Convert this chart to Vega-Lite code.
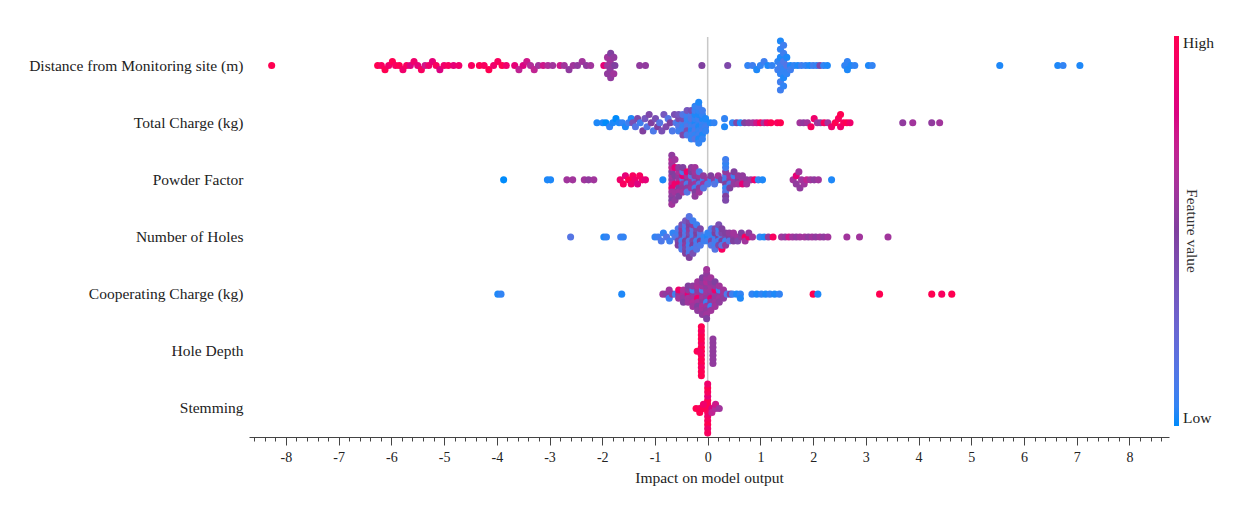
{
"$schema": "https://vega.github.io/schema/vega-lite/v6.json",
"width": 920, "height": 400,
"padding": {"left": 28, "top": 36, "right": 5, "bottom": 5},
"background": "white",
"config": {"font": "Liberation Serif", "view": {"stroke": null}},
"layer": [
{"data": {"values": [{}]}, "mark": {"type": "rule", "color": "#c8c8c8", "strokeWidth": 1.5}, "encoding": {"x": {"datum": 0, "type": "quantitative"}}},
{"data": {"values": [
{"k":1,"v":-8.27,"j":0,"c":1},{"k":1,"v":-6.26,"j":0,"c":1},{"k":1,"v":-6.19,"j":0,"c":0.95},{"k":1,"v":-6.12,"j":1,"c":1},{"k":1,"v":-6.05,"j":0,"c":0.9},{"k":1,"v":-5.98,"j":-1,"c":1},{"k":1,"v":-5.92,"j":0,"c":0.95},{"k":1,"v":-5.85,"j":0,"c":1},{"k":1,"v":-5.78,"j":1,"c":0.9},{"k":1,"v":-5.71,"j":0,"c":0.95},{"k":1,"v":-5.64,"j":0,"c":0.8},{"k":1,"v":-5.57,"j":-1,"c":0.9},{"k":1,"v":-5.5,"j":0,"c":0.85},{"k":1,"v":-5.43,"j":1,"c":0.95},{"k":1,"v":-5.36,"j":0,"c":0.75},{"k":1,"v":-5.29,"j":0,"c":0.9},{"k":1,"v":-5.22,"j":-1,"c":0.85},{"k":1,"v":-5.15,"j":0,"c":0.95},{"k":1,"v":-5.08,"j":1,"c":0.8},{"k":1,"v":-5.0,"j":0,"c":0.9},{"k":1,"v":-4.92,"j":0,"c":0.95},{"k":1,"v":-4.82,"j":0,"c":0.85},{"k":1,"v":-4.72,"j":0,"c":0.9},{"k":1,"v":-4.48,"j":0,"c":0.95},{"k":1,"v":-4.33,"j":0,"c":1},{"k":1,"v":-4.24,"j":0,"c":0.95},{"k":1,"v":-4.15,"j":1,"c":1},{"k":1,"v":-4.06,"j":0,"c":0.9},{"k":1,"v":-3.98,"j":-1,"c":0.95},{"k":1,"v":-3.9,"j":0,"c":1},{"k":1,"v":-3.82,"j":0,"c":0.9},{"k":1,"v":-3.66,"j":0,"c":0.85},{"k":1,"v":-3.58,"j":1,"c":0.7},{"k":1,"v":-3.5,"j":0,"c":0.8},{"k":1,"v":-3.43,"j":-1,"c":0.75},{"k":1,"v":-3.36,"j":0,"c":0.65},{"k":1,"v":-3.29,"j":1,"c":0.7},{"k":1,"v":-3.21,"j":0,"c":0.6},{"k":1,"v":-3.12,"j":0,"c":0.75},{"k":1,"v":-3.03,"j":0,"c":0.65},{"k":1,"v":-2.94,"j":0,"c":0.6},{"k":1,"v":-2.8,"j":0,"c":0.75},{"k":1,"v":-2.72,"j":0,"c":0.6},{"k":1,"v":-2.63,"j":1,"c":0.55},{"k":1,"v":-2.55,"j":0,"c":0.6},{"k":1,"v":-2.47,"j":0,"c":0.55},{"k":1,"v":-2.38,"j":-1,"c":0.6},{"k":1,"v":-2.3,"j":0,"c":0.55},{"k":1,"v":-2.22,"j":0,"c":0.6},
{"k":1,"v":-1.97,"j":0,"c":0.85},{"k":1,"v":-1.9,"j":0,"c":0.6},{"k":1,"v":-1.9,"j":2,"c":0.55},{"k":1,"v":-1.9,"j":-2,"c":0.6},{"k":1,"v":-1.85,"j":1,"c":0.55},{"k":1,"v":-1.85,"j":-1,"c":0.6},{"k":1,"v":-1.84,"j":3,"c":0.55},{"k":1,"v":-1.84,"j":-3,"c":0.5},{"k":1,"v":-1.8,"j":0,"c":0.55},{"k":1,"v":-1.78,"j":2,"c":0.6},{"k":1,"v":-1.78,"j":-2,"c":0.55},{"k":1,"v":-1.76,"j":0,"c":0.5},{"k":1,"v":-1.29,"j":0,"c":0.55},{"k":1,"v":-1.18,"j":0,"c":0.55},{"k":1,"v":-0.11,"j":0,"c":0.5},{"k":1,"v":0.38,"j":0,"c":0.45},
{"k":1,"v":0.76,"j":0,"c":0.05},{"k":1,"v":0.85,"j":0,"c":0.08},{"k":1,"v":0.93,"j":1,"c":0.02},{"k":1,"v":1.0,"j":0,"c":0.05},{"k":1,"v":1.07,"j":-1,"c":0.08},{"k":1,"v":1.14,"j":0,"c":0.02},{"k":1,"v":1.22,"j":0,"c":0.05},{"k":1,"v":1.33,"j":1,"c":0.08},{"k":1,"v":1.33,"j":-1,"c":0.05},{"k":1,"v":1.38,"j":0,"c":0.08},{"k":1,"v":1.38,"j":2,"c":0.05},{"k":1,"v":1.38,"j":-2,"c":0.02},{"k":1,"v":1.38,"j":4,"c":0.08},{"k":1,"v":1.38,"j":-4,"c":0.05},{"k":1,"v":1.38,"j":6,"c":0.08},{"k":1,"v":1.38,"j":-6,"c":0.02},{"k":1,"v":1.44,"j":1,"c":0.05},{"k":1,"v":1.44,"j":-1,"c":0.12},{"k":1,"v":1.44,"j":3,"c":0.02},{"k":1,"v":1.44,"j":-3,"c":0.08},{"k":1,"v":1.44,"j":5,"c":0.05},{"k":1,"v":1.44,"j":-5,"c":0.08},{"k":1,"v":1.5,"j":0,"c":0.15},{"k":1,"v":1.5,"j":2,"c":0.05},{"k":1,"v":1.5,"j":-2,"c":0.02},{"k":1,"v":1.57,"j":0,"c":0.02},{"k":1,"v":1.57,"j":1,"c":0.08},{"k":1,"v":1.64,"j":0,"c":0.05},{"k":1,"v":1.71,"j":0,"c":0.02},{"k":1,"v":1.78,"j":0,"c":0.08},{"k":1,"v":1.86,"j":0,"c":0.05},{"k":1,"v":1.93,"j":0,"c":0.02},{"k":1,"v":2.0,"j":0,"c":0.08},{"k":1,"v":2.07,"j":0,"c":0.05},{"k":1,"v":2.13,"j":0,"c":0.45},{"k":1,"v":2.2,"j":0,"c":0.05},{"k":1,"v":2.27,"j":0,"c":0.02},{"k":1,"v":2.6,"j":0,"c":0.05},{"k":1,"v":2.65,"j":1,"c":0.02},{"k":1,"v":2.65,"j":-1,"c":0.05},{"k":1,"v":2.72,"j":0,"c":0.02},{"k":1,"v":2.79,"j":0,"c":0.05},{"k":1,"v":3.05,"j":0,"c":0.02},{"k":1,"v":3.12,"j":0,"c":0.05},{"k":1,"v":5.54,"j":0,"c":0.02},{"k":1,"v":6.64,"j":0,"c":0.02},{"k":1,"v":6.74,"j":0,"c":0.05},{"k":1,"v":7.06,"j":0,"c":0.02},
{"k":2,"v":-2.1,"j":0,"c":0.02},{"k":2,"v":-1.99,"j":0,"c":0.02},{"k":2,"v":-1.93,"j":0,"c":0},{"k":2,"v":-1.86,"j":1,"c":0.05},{"k":2,"v":-1.8,"j":0,"c":0.02},{"k":2,"v":-1.74,"j":-1,"c":0},{"k":2,"v":-1.68,"j":0,"c":0.02},{"k":2,"v":-1.62,"j":0,"c":0.05},{"k":2,"v":-1.56,"j":1,"c":0.02},{"k":2,"v":-1.5,"j":0,"c":0.08},{"k":2,"v":-1.45,"j":-1,"c":0.02},{"k":2,"v":-1.42,"j":0,"c":0.4},{"k":2,"v":-1.37,"j":1,"c":0.15},{"k":2,"v":-1.33,"j":-1,"c":0.45},{"k":2,"v":-1.28,"j":0,"c":0.08},{"k":2,"v":-1.23,"j":2,"c":0.5},{"k":2,"v":-1.19,"j":-1,"c":0.35},{"k":2,"v":-1.15,"j":1,"c":0.15},{"k":2,"v":-1.11,"j":-2,"c":0.45},{"k":2,"v":-1.07,"j":0,"c":0.5},{"k":2,"v":-1.03,"j":2,"c":0.12},{"k":2,"v":-0.99,"j":-1,"c":0.4},{"k":2,"v":-0.95,"j":1,"c":0.5},{"k":2,"v":-0.91,"j":0,"c":0.15},{"k":2,"v":-0.87,"j":2,"c":0.4},{"k":2,"v":-0.83,"j":-2,"c":0.35},{"k":2,"v":-0.79,"j":1,"c":0.45},{"k":2,"v":-0.75,"j":-1,"c":0.15},{"k":2,"v":-0.71,"j":0,"c":0.5},{"k":2,"v":-0.67,"j":2,"c":0.12},{"k":2,"v":-0.63,"j":-2,"c":0.4},{"k":2,"v":-0.6,"j":0,"c":0.15},
{"k":2,"v":-0.55,"j":0,"c":0.08},{"k":2,"v":-0.55,"j":1,"c":0.15},{"k":2,"v":-0.55,"j":-1,"c":0.45},{"k":2,"v":-0.55,"j":2,"c":0.08},{"k":2,"v":-0.55,"j":-2,"c":0.35},
{"k":2,"v":-0.47,"j":0,"c":0.12},{"k":2,"v":-0.47,"j":1,"c":0.05},{"k":2,"v":-0.47,"j":-1,"c":0.4},{"k":2,"v":-0.47,"j":2,"c":0.08},{"k":2,"v":-0.47,"j":-2,"c":0.15},{"k":2,"v":-0.47,"j":3,"c":0.45},
{"k":2,"v":-0.39,"j":0,"c":0.08},{"k":2,"v":-0.39,"j":1,"c":0.15},{"k":2,"v":-0.39,"j":-1,"c":0.05},{"k":2,"v":-0.39,"j":2,"c":0.4},{"k":2,"v":-0.39,"j":-2,"c":0.08},{"k":2,"v":-0.39,"j":3,"c":0.12},{"k":2,"v":-0.39,"j":-3,"c":0.35},
{"k":2,"v":-0.31,"j":0,"c":0.05},{"k":2,"v":-0.31,"j":1,"c":0.08},{"k":2,"v":-0.31,"j":-1,"c":0.15},{"k":2,"v":-0.31,"j":2,"c":0.02},{"k":2,"v":-0.31,"j":-2,"c":0.12},{"k":2,"v":-0.31,"j":3,"c":0.08},{"k":2,"v":-0.31,"j":-3,"c":0.4},{"k":2,"v":-0.31,"j":4,"c":0.05},
{"k":2,"v":-0.24,"j":0,"c":0.02},{"k":2,"v":-0.24,"j":1,"c":0.08},{"k":2,"v":-0.24,"j":-1,"c":0.05},{"k":2,"v":-0.24,"j":2,"c":0.12},{"k":2,"v":-0.24,"j":-2,"c":0.02},{"k":2,"v":-0.24,"j":3,"c":0.05},{"k":2,"v":-0.24,"j":-3,"c":0.08},{"k":2,"v":-0.24,"j":4,"c":0.15},{"k":2,"v":-0.24,"j":-4,"c":0.05},
{"k":2,"v":-0.17,"j":0,"c":0.05},{"k":2,"v":-0.17,"j":1,"c":0.02},{"k":2,"v":-0.17,"j":-1,"c":0.08},{"k":2,"v":-0.17,"j":2,"c":0.05},{"k":2,"v":-0.17,"j":-2,"c":0.02},{"k":2,"v":-0.17,"j":3,"c":0.08},{"k":2,"v":-0.17,"j":-3,"c":0.05},{"k":2,"v":-0.17,"j":4,"c":0.02},{"k":2,"v":-0.17,"j":-4,"c":0.08},{"k":2,"v":-0.17,"j":5,"c":0.05},{"k":2,"v":-0.17,"j":-5,"c":0.02},
{"k":2,"v":-0.1,"j":0,"c":0.08},{"k":2,"v":-0.1,"j":1,"c":0.05},{"k":2,"v":-0.1,"j":-1,"c":0.02},{"k":2,"v":-0.1,"j":2,"c":0.08},{"k":2,"v":-0.1,"j":-2,"c":0.05},{"k":2,"v":-0.1,"j":3,"c":0.02},{"k":2,"v":-0.1,"j":-3,"c":0.08},{"k":2,"v":-0.1,"j":4,"c":0.05},
{"k":2,"v":-0.04,"j":0,"c":0.05},{"k":2,"v":-0.04,"j":1,"c":0.08},{"k":2,"v":-0.04,"j":-1,"c":0.02},{"k":2,"v":-0.04,"j":2,"c":0.05},
{"k":2,"v":0.05,"j":0,"c":0.02},{"k":2,"v":0.12,"j":0,"c":0.05},{"k":2,"v":0.32,"j":1,"c":0.02},{"k":2,"v":0.32,"j":-1,"c":0.05},{"k":2,"v":0.47,"j":0,"c":0.05},{"k":2,"v":0.55,"j":0,"c":0.45},{"k":2,"v":0.62,"j":0,"c":0.02},{"k":2,"v":0.7,"j":0,"c":0.5},{"k":2,"v":0.78,"j":0,"c":0.55},{"k":2,"v":0.86,"j":0,"c":0.6},{"k":2,"v":0.93,"j":0,"c":0.75},{"k":2,"v":1.0,"j":0,"c":0.95},{"k":2,"v":1.07,"j":0,"c":0.6},{"k":2,"v":1.13,"j":0,"c":0.9},{"k":2,"v":1.2,"j":0,"c":1},{"k":2,"v":1.32,"j":0,"c":0.95},{"k":2,"v":1.38,"j":0,"c":1},
{"k":2,"v":1.75,"j":0,"c":0.6},{"k":2,"v":1.82,"j":0,"c":0.55},{"k":2,"v":1.89,"j":0,"c":0.6},{"k":2,"v":1.96,"j":1,"c":0.95},{"k":2,"v":2.02,"j":-1,"c":0.9},{"k":2,"v":2.08,"j":0,"c":0.6},{"k":2,"v":2.14,"j":0,"c":0.55},{"k":2,"v":2.21,"j":0,"c":0.95},{"k":2,"v":2.28,"j":0,"c":0.6},{"k":2,"v":2.35,"j":1,"c":0.9},{"k":2,"v":2.42,"j":0,"c":1},{"k":2,"v":2.48,"j":-1,"c":0.95},{"k":2,"v":2.52,"j":1,"c":0.9},{"k":2,"v":2.52,"j":-2,"c":1},{"k":2,"v":2.58,"j":0,"c":0.95},{"k":2,"v":2.64,"j":0,"c":1},{"k":2,"v":2.7,"j":0,"c":0.9},{"k":2,"v":3.7,"j":0,"c":0.55},{"k":2,"v":3.89,"j":0,"c":0.6},{"k":2,"v":4.25,"j":0,"c":0.55},{"k":2,"v":4.4,"j":0,"c":0.6},
{"k":3,"v":-3.87,"j":0,"c":0},{"k":3,"v":-3.04,"j":0,"c":0.02},{"k":3,"v":-2.98,"j":0,"c":0.02},{"k":3,"v":-2.67,"j":0,"c":0.6},{"k":3,"v":-2.56,"j":0,"c":0.6},{"k":3,"v":-2.34,"j":0,"c":0.6},{"k":3,"v":-2.26,"j":0,"c":0.55},{"k":3,"v":-2.16,"j":0,"c":0.6},
{"k":3,"v":-1.66,"j":0,"c":0.9},{"k":3,"v":-1.6,"j":1,"c":0.95},{"k":3,"v":-1.56,"j":-1,"c":0.85},{"k":3,"v":-1.5,"j":0,"c":1},{"k":3,"v":-1.45,"j":1,"c":0.9},{"k":3,"v":-1.42,"j":-1,"c":0.95},{"k":3,"v":-1.38,"j":0,"c":0.9},{"k":3,"v":-1.33,"j":1,"c":0.8},{"k":3,"v":-1.29,"j":-1,"c":0.95},{"k":3,"v":-1.24,"j":0,"c":0.9},{"k":3,"v":-1.18,"j":0,"c":0.85},{"k":3,"v":-0.85,"j":0,"c":0.02},
{"k":3,"v":-0.68,"j":0,"c":0.55},{"k":3,"v":-0.68,"j":1,"c":0.7},{"k":3,"v":-0.68,"j":-1,"c":0.6},{"k":3,"v":-0.68,"j":2,"c":0.85},{"k":3,"v":-0.68,"j":-2,"c":0.5},{"k":3,"v":-0.68,"j":3,"c":0.6},{"k":3,"v":-0.68,"j":-3,"c":0.7},{"k":3,"v":-0.68,"j":4,"c":0.55},{"k":3,"v":-0.68,"j":-4,"c":0.6},{"k":3,"v":-0.68,"j":5,"c":0.5},{"k":3,"v":-0.68,"j":-5,"c":0.65},{"k":3,"v":-0.68,"j":6,"c":0.6},{"k":3,"v":-0.68,"j":-6,"c":0.55},
{"k":3,"v":-0.62,"j":1,"c":0.9},{"k":3,"v":-0.62,"j":-1,"c":0.5},{"k":3,"v":-0.62,"j":3,"c":0.6},{"k":3,"v":-0.62,"j":-3,"c":0.85},{"k":3,"v":-0.62,"j":5,"c":0.55},{"k":3,"v":-0.62,"j":-5,"c":0.6},
{"k":3,"v":-0.55,"j":0,"c":0.6},{"k":3,"v":-0.55,"j":1,"c":0.9},{"k":3,"v":-0.55,"j":-1,"c":0.55},{"k":3,"v":-0.55,"j":2,"c":0.5},{"k":3,"v":-0.55,"j":-2,"c":0.65},{"k":3,"v":-0.55,"j":3,"c":0.6},{"k":3,"v":-0.55,"j":-3,"c":0.55},{"k":3,"v":-0.55,"j":4,"c":0.5},
{"k":3,"v":-0.47,"j":0,"c":0.15},{"k":3,"v":-0.47,"j":1,"c":0.6},{"k":3,"v":-0.47,"j":-1,"c":0.85},{"k":3,"v":-0.47,"j":2,"c":0.55},{"k":3,"v":-0.47,"j":-2,"c":0.12},{"k":3,"v":-0.47,"j":3,"c":0.6},{"k":3,"v":-0.47,"j":-3,"c":0.5},
{"k":3,"v":-0.39,"j":0,"c":0.5},{"k":3,"v":-0.39,"j":1,"c":0.12},{"k":3,"v":-0.39,"j":-1,"c":0.6},{"k":3,"v":-0.39,"j":2,"c":0.55},{"k":3,"v":-0.39,"j":-2,"c":0.9},{"k":3,"v":-0.39,"j":3,"c":0.15},
{"k":3,"v":-0.31,"j":0,"c":0.6},{"k":3,"v":-0.31,"j":1,"c":0.55},{"k":3,"v":-0.31,"j":-1,"c":0.15},{"k":3,"v":-0.31,"j":2,"c":0.6},{"k":3,"v":-0.31,"j":-2,"c":0.5},{"k":3,"v":-0.31,"j":-3,"c":0.55},
{"k":3,"v":-0.24,"j":0,"c":0.12},{"k":3,"v":-0.24,"j":1,"c":0.6},{"k":3,"v":-0.24,"j":-1,"c":0.55},{"k":3,"v":-0.24,"j":2,"c":0.08},{"k":3,"v":-0.24,"j":-2,"c":0.6},{"k":3,"v":-0.24,"j":3,"c":0.5},{"k":3,"v":-0.24,"j":-3,"c":0.6},{"k":3,"v":-0.24,"j":4,"c":0.55},
{"k":3,"v":-0.16,"j":0,"c":0.5},{"k":3,"v":-0.16,"j":1,"c":0.15},{"k":3,"v":-0.16,"j":-1,"c":0.6},{"k":3,"v":-0.16,"j":2,"c":0.55},{"k":3,"v":-0.16,"j":-2,"c":0.12},{"k":3,"v":-0.16,"j":3,"c":0.6},
{"k":3,"v":-0.08,"j":0,"c":0.08},{"k":3,"v":-0.08,"j":1,"c":0.6},{"k":3,"v":-0.08,"j":-1,"c":0.55},{"k":3,"v":-0.08,"j":2,"c":0.15},{"k":3,"v":0.0,"j":0,"c":0.6},{"k":3,"v":0.0,"j":1,"c":0.12},
{"k":3,"v":0.06,"j":0,"c":0.08},{"k":3,"v":0.06,"j":-1,"c":0.5},{"k":3,"v":0.13,"j":0,"c":0.55},{"k":3,"v":0.13,"j":1,"c":0.15},{"k":3,"v":0.2,"j":0,"c":0.08},{"k":3,"v":0.2,"j":-1,"c":0.6},{"k":3,"v":0.26,"j":0,"c":0.5},
{"k":3,"v":0.34,"j":0,"c":0.08},{"k":3,"v":0.34,"j":1,"c":0.5},{"k":3,"v":0.34,"j":-1,"c":0.12},{"k":3,"v":0.34,"j":2,"c":0.05},{"k":3,"v":0.34,"j":-2,"c":0.55},{"k":3,"v":0.34,"j":3,"c":0.15},{"k":3,"v":0.34,"j":-3,"c":0.08},{"k":3,"v":0.34,"j":4,"c":0.5},{"k":3,"v":0.34,"j":-4,"c":0.05},{"k":3,"v":0.34,"j":5,"c":0.45},{"k":3,"v":0.34,"j":-5,"c":0.08},
{"k":3,"v":0.42,"j":0,"c":0.55},{"k":3,"v":0.42,"j":1,"c":0.12},{"k":3,"v":0.42,"j":-1,"c":0.6},{"k":3,"v":0.42,"j":2,"c":0.5},{"k":3,"v":0.5,"j":0,"c":0.6},{"k":3,"v":0.5,"j":1,"c":0.55},{"k":3,"v":0.5,"j":-1,"c":0.08},{"k":3,"v":0.5,"j":-2,"c":0.5},{"k":3,"v":0.58,"j":0,"c":0.5},{"k":3,"v":0.58,"j":1,"c":0.6},{"k":3,"v":0.58,"j":-1,"c":0.55},{"k":3,"v":0.66,"j":0,"c":0.6},{"k":3,"v":0.66,"j":1,"c":0.85},{"k":3,"v":0.66,"j":-1,"c":0.55},{"k":3,"v":0.74,"j":0,"c":0.55},{"k":3,"v":0.74,"j":1,"c":0.6},{"k":3,"v":0.82,"j":0,"c":0.6},{"k":3,"v":0.89,"j":0,"c":0.9},{"k":3,"v":0.96,"j":0,"c":0.05},{"k":3,"v":1.04,"j":0,"c":0.02},
{"k":3,"v":1.62,"j":0,"c":0.6},{"k":3,"v":1.68,"j":1,"c":0.55},{"k":3,"v":1.68,"j":-1,"c":0.85},{"k":3,"v":1.73,"j":-2,"c":0.6},{"k":3,"v":1.75,"j":2,"c":0.55},{"k":3,"v":1.78,"j":0,"c":0.6},{"k":3,"v":1.83,"j":1,"c":0.6},{"k":3,"v":1.88,"j":0,"c":0.7},{"k":3,"v":1.95,"j":0,"c":0.6},{"k":3,"v":2.02,"j":0,"c":0.55},{"k":3,"v":2.1,"j":0,"c":0.6},{"k":3,"v":2.35,"j":0,"c":0.02},
{"k":4,"v":-2.6,"j":0,"c":0.15},{"k":4,"v":-1.97,"j":0,"c":0.02},{"k":4,"v":-1.92,"j":0,"c":0.05},{"k":4,"v":-1.65,"j":0,"c":0.08},{"k":4,"v":-1.6,"j":0,"c":0.05},{"k":4,"v":-1.0,"j":0,"c":0.05},{"k":4,"v":-0.94,"j":0,"c":0.08},{"k":4,"v":-0.88,"j":1,"c":0.12},{"k":4,"v":-0.84,"j":-1,"c":0.05},{"k":4,"v":-0.78,"j":0,"c":0.15},{"k":4,"v":-0.72,"j":1,"c":0.08},{"k":4,"v":-0.66,"j":-1,"c":0.05},{"k":4,"v":-0.62,"j":0,"c":0.12},
{"k":4,"v":-0.56,"j":0,"c":0.15},{"k":4,"v":-0.56,"j":1,"c":0.45},{"k":4,"v":-0.56,"j":-1,"c":0.08},{"k":4,"v":-0.56,"j":2,"c":0.5},{"k":4,"v":-0.56,"j":-2,"c":0.12},
{"k":4,"v":-0.49,"j":0,"c":0.45},{"k":4,"v":-0.49,"j":1,"c":0.08},{"k":4,"v":-0.49,"j":-1,"c":0.5},{"k":4,"v":-0.49,"j":2,"c":0.15},{"k":4,"v":-0.49,"j":-2,"c":0.55},{"k":4,"v":-0.49,"j":3,"c":0.12},{"k":4,"v":-0.49,"j":-3,"c":0.4},
{"k":4,"v":-0.42,"j":0,"c":0.12},{"k":4,"v":-0.42,"j":1,"c":0.5},{"k":4,"v":-0.42,"j":-1,"c":0.15},{"k":4,"v":-0.42,"j":2,"c":0.55},{"k":4,"v":-0.42,"j":-2,"c":0.08},{"k":4,"v":-0.42,"j":3,"c":0.45},{"k":4,"v":-0.42,"j":-3,"c":0.15},{"k":4,"v":-0.42,"j":4,"c":0.5},{"k":4,"v":-0.42,"j":-4,"c":0.35},
{"k":4,"v":-0.35,"j":0,"c":0.5},{"k":4,"v":-0.35,"j":1,"c":0.15},{"k":4,"v":-0.35,"j":-1,"c":0.45},{"k":4,"v":-0.35,"j":2,"c":0.08},{"k":4,"v":-0.35,"j":-2,"c":0.55},{"k":4,"v":-0.35,"j":3,"c":0.15},{"k":4,"v":-0.35,"j":-3,"c":0.5},{"k":4,"v":-0.35,"j":4,"c":0.12},{"k":4,"v":-0.35,"j":-4,"c":0.45},{"k":4,"v":-0.35,"j":5,"c":0.5},{"k":4,"v":-0.35,"j":-5,"c":0.15},
{"k":4,"v":-0.28,"j":0,"c":0.08},{"k":4,"v":-0.28,"j":1,"c":0.45},{"k":4,"v":-0.28,"j":-1,"c":0.12},{"k":4,"v":-0.28,"j":2,"c":0.5},{"k":4,"v":-0.28,"j":-2,"c":0.15},{"k":4,"v":-0.28,"j":3,"c":0.08},{"k":4,"v":-0.28,"j":-3,"c":0.55},{"k":4,"v":-0.28,"j":4,"c":0.4},{"k":4,"v":-0.28,"j":-4,"c":0.08},
{"k":4,"v":-0.21,"j":0,"c":0.45},{"k":4,"v":-0.21,"j":1,"c":0.08},{"k":4,"v":-0.21,"j":-1,"c":0.5},{"k":4,"v":-0.21,"j":2,"c":0.12},{"k":4,"v":-0.21,"j":-2,"c":0.45},{"k":4,"v":-0.21,"j":3,"c":0.15},{"k":4,"v":-0.21,"j":-3,"c":0.08},
{"k":4,"v":-0.14,"j":0,"c":0.08},{"k":4,"v":-0.14,"j":1,"c":0.5},{"k":4,"v":-0.14,"j":-1,"c":0.15},{"k":4,"v":-0.14,"j":2,"c":0.12},{"k":4,"v":-0.14,"j":-2,"c":0.45},{"k":4,"v":-0.07,"j":0,"c":0.05},{"k":4,"v":-0.07,"j":1,"c":0.08},{"k":4,"v":0.0,"j":0,"c":0.02},{"k":4,"v":0.0,"j":1,"c":0.08},{"k":4,"v":0.0,"j":-1,"c":0.05},
{"k":4,"v":0.07,"j":0,"c":0.08},{"k":4,"v":0.07,"j":1,"c":0.45},{"k":4,"v":0.07,"j":-1,"c":0.05},{"k":4,"v":0.07,"j":2,"c":0.15},{"k":4,"v":0.07,"j":-2,"c":0.12},
{"k":4,"v":0.14,"j":0,"c":0.05},{"k":4,"v":0.14,"j":1,"c":0.12},{"k":4,"v":0.14,"j":-1,"c":0.5},{"k":4,"v":0.14,"j":2,"c":0.08},{"k":4,"v":0.14,"j":-2,"c":0.45},{"k":4,"v":0.14,"j":3,"c":0.15},
{"k":4,"v":0.21,"j":0,"c":0.5},{"k":4,"v":0.21,"j":1,"c":0.08},{"k":4,"v":0.21,"j":-1,"c":0.15},{"k":4,"v":0.21,"j":2,"c":0.45},{"k":4,"v":0.21,"j":-2,"c":0.08},{"k":4,"v":0.21,"j":-3,"c":0.4},
{"k":4,"v":0.27,"j":3,"c":0.95},{"k":4,"v":0.27,"j":0,"c":0.12},{"k":4,"v":0.27,"j":1,"c":0.5},{"k":4,"v":0.27,"j":-1,"c":0.45},{"k":4,"v":0.27,"j":2,"c":0.15},{"k":4,"v":0.27,"j":-2,"c":0.5},
{"k":4,"v":0.34,"j":0,"c":0.45},{"k":4,"v":0.34,"j":1,"c":0.08},{"k":4,"v":0.34,"j":-1,"c":0.5},{"k":4,"v":0.34,"j":2,"c":0.55},{"k":4,"v":0.41,"j":0,"c":0.5},{"k":4,"v":0.41,"j":1,"c":0.15},{"k":4,"v":0.41,"j":-1,"c":0.55},
{"k":4,"v":0.49,"j":0,"c":0.55},{"k":4,"v":0.49,"j":1,"c":0.5},{"k":4,"v":0.49,"j":-1,"c":0.6},{"k":4,"v":0.57,"j":0,"c":0.6},{"k":4,"v":0.57,"j":1,"c":0.45},{"k":4,"v":0.64,"j":0,"c":0.55},{"k":4,"v":0.64,"j":-1,"c":0.5},{"k":4,"v":0.71,"j":0,"c":0.95},{"k":4,"v":0.71,"j":1,"c":0.6},{"k":4,"v":0.78,"j":0,"c":0.9},{"k":4,"v":0.78,"j":-1,"c":0.55},{"k":4,"v":0.85,"j":0,"c":0.6},
{"k":4,"v":0.99,"j":0,"c":0.05},{"k":4,"v":1.07,"j":0,"c":0.02},{"k":4,"v":1.15,"j":0,"c":0.55},{"k":4,"v":1.24,"j":0,"c":0.95},{"k":4,"v":1.4,"j":0,"c":0.6},{"k":4,"v":1.47,"j":0,"c":0.55},{"k":4,"v":1.54,"j":0,"c":0.75},{"k":4,"v":1.61,"j":0,"c":0.6},{"k":4,"v":1.68,"j":0,"c":0.55},{"k":4,"v":1.75,"j":0,"c":0.6},{"k":4,"v":1.84,"j":0,"c":0.6},{"k":4,"v":1.91,"j":0,"c":0.55},{"k":4,"v":1.98,"j":0,"c":0.6},{"k":4,"v":2.05,"j":0,"c":0.55},{"k":4,"v":2.13,"j":0,"c":0.6},{"k":4,"v":2.2,"j":0,"c":0.55},{"k":4,"v":2.28,"j":0,"c":0.6},{"k":4,"v":2.64,"j":0,"c":0.6},{"k":4,"v":2.88,"j":0,"c":0.6},{"k":4,"v":3.42,"j":0,"c":0.6},
{"k":5,"v":-3.98,"j":0,"c":0.02},{"k":5,"v":-3.92,"j":0,"c":0.05},{"k":5,"v":-1.63,"j":0,"c":0.02},{"k":5,"v":-0.85,"j":0,"c":0.6},{"k":5,"v":-0.79,"j":0,"c":0.55},{"k":5,"v":-0.73,"j":1,"c":0.08},{"k":5,"v":-0.73,"j":-1,"c":0.6},{"k":5,"v":-0.67,"j":0,"c":0.55},{"k":5,"v":-0.61,"j":0,"c":0.08},
{"k":5,"v":-0.55,"j":0,"c":0.55},{"k":5,"v":-0.55,"j":1,"c":0.6},{"k":5,"v":-0.55,"j":-1,"c":0.9},
{"k":5,"v":-0.46,"j":0,"c":0.6},{"k":5,"v":-0.46,"j":1,"c":0.55},{"k":5,"v":-0.46,"j":-1,"c":0.65},{"k":5,"v":-0.46,"j":2,"c":0.5},
{"k":5,"v":-0.37,"j":0,"c":0.85},{"k":5,"v":-0.37,"j":1,"c":0.6},{"k":5,"v":-0.37,"j":-1,"c":0.55},{"k":5,"v":-0.37,"j":2,"c":0.6},{"k":5,"v":-0.37,"j":-2,"c":0.5},
{"k":5,"v":-0.28,"j":0,"c":0.55},{"k":5,"v":-0.28,"j":1,"c":0.6},{"k":5,"v":-0.28,"j":-1,"c":0.08},{"k":5,"v":-0.28,"j":2,"c":0.65},{"k":5,"v":-0.28,"j":-2,"c":0.55},{"k":5,"v":-0.28,"j":3,"c":0.6},
{"k":5,"v":-0.19,"j":0,"c":0.6},{"k":5,"v":-0.19,"j":1,"c":0.9},{"k":5,"v":-0.19,"j":-1,"c":0.55},{"k":5,"v":-0.19,"j":2,"c":0.6},{"k":5,"v":-0.19,"j":-2,"c":0.65},{"k":5,"v":-0.19,"j":3,"c":0.5},{"k":5,"v":-0.19,"j":-3,"c":0.6},{"k":5,"v":-0.19,"j":4,"c":0.55},
{"k":5,"v":-0.1,"j":0,"c":0.55},{"k":5,"v":-0.1,"j":1,"c":0.6},{"k":5,"v":-0.1,"j":-1,"c":0.12},{"k":5,"v":-0.1,"j":2,"c":0.55},{"k":5,"v":-0.1,"j":-2,"c":0.6},{"k":5,"v":-0.1,"j":3,"c":0.65},{"k":5,"v":-0.1,"j":-3,"c":0.55},{"k":5,"v":-0.1,"j":4,"c":0.6},{"k":5,"v":-0.1,"j":-4,"c":0.5},{"k":5,"v":-0.1,"j":5,"c":0.55},
{"k":5,"v":-0.02,"j":0,"c":0.6},{"k":5,"v":-0.02,"j":1,"c":0.55},{"k":5,"v":-0.02,"j":-1,"c":0.6},{"k":5,"v":-0.02,"j":2,"c":0.08},{"k":5,"v":-0.02,"j":-2,"c":0.55},{"k":5,"v":-0.02,"j":3,"c":0.6},{"k":5,"v":-0.02,"j":-3,"c":0.65},{"k":5,"v":-0.02,"j":4,"c":0.55},{"k":5,"v":-0.02,"j":-4,"c":0.6},{"k":5,"v":-0.02,"j":5,"c":0.6},{"k":5,"v":-0.02,"j":-5,"c":0.55},{"k":5,"v":-0.02,"j":6,"c":0.5},{"k":5,"v":-0.02,"j":-6,"c":0.6},
{"k":5,"v":0.06,"j":0,"c":0.55},{"k":5,"v":0.06,"j":1,"c":0.85},{"k":5,"v":0.06,"j":-1,"c":0.6},{"k":5,"v":0.06,"j":2,"c":0.55},{"k":5,"v":0.06,"j":-2,"c":0.6},{"k":5,"v":0.06,"j":3,"c":0.08},{"k":5,"v":0.06,"j":-3,"c":0.55},{"k":5,"v":0.06,"j":4,"c":0.6},{"k":5,"v":0.06,"j":-4,"c":0.6},
{"k":5,"v":0.14,"j":0,"c":0.6},{"k":5,"v":0.14,"j":1,"c":0.55},{"k":5,"v":0.14,"j":-1,"c":0.9},{"k":5,"v":0.14,"j":2,"c":0.6},{"k":5,"v":0.14,"j":-2,"c":0.55},{"k":5,"v":0.14,"j":3,"c":0.6},{"k":5,"v":0.14,"j":-3,"c":0.5},
{"k":5,"v":0.22,"j":0,"c":0.55},{"k":5,"v":0.22,"j":1,"c":0.6},{"k":5,"v":0.22,"j":-1,"c":0.08},{"k":5,"v":0.22,"j":2,"c":0.55},{"k":5,"v":0.22,"j":-2,"c":0.6},
{"k":5,"v":0.3,"j":0,"c":0.6},{"k":5,"v":0.3,"j":1,"c":0.55},{"k":5,"v":0.3,"j":-1,"c":0.6},
{"k":5,"v":0.37,"j":0,"c":0.12},{"k":5,"v":0.43,"j":0,"c":0.55},{"k":5,"v":0.47,"j":0,"c":0.08},{"k":5,"v":0.55,"j":0,"c":0.02},{"k":5,"v":0.62,"j":0,"c":0.05},{"k":5,"v":0.62,"j":1,"c":0.02},{"k":5,"v":0.84,"j":0,"c":0.05},{"k":5,"v":0.93,"j":0,"c":0.02},{"k":5,"v":1.02,"j":0,"c":0.05},{"k":5,"v":1.1,"j":0,"c":0.02},{"k":5,"v":1.18,"j":0,"c":0.05},{"k":5,"v":1.27,"j":0,"c":0.02},{"k":5,"v":1.36,"j":0,"c":0.05},{"k":5,"v":2.0,"j":0,"c":1},{"k":5,"v":2.09,"j":0,"c":0.02},{"k":5,"v":3.26,"j":0,"c":1},{"k":5,"v":4.25,"j":0,"c":1},{"k":5,"v":4.44,"j":0,"c":0.95},{"k":5,"v":4.63,"j":0,"c":1},
{"k":6,"v":-0.12,"j":0,"c":1},{"k":6,"v":-0.12,"j":1,"c":0.95},{"k":6,"v":-0.12,"j":-1,"c":1},{"k":6,"v":-0.12,"j":2,"c":1},{"k":6,"v":-0.12,"j":-2,"c":0.95},{"k":6,"v":-0.12,"j":3,"c":1},{"k":6,"v":-0.12,"j":-3,"c":1},{"k":6,"v":-0.12,"j":4,"c":0.95},{"k":6,"v":-0.12,"j":-4,"c":1},{"k":6,"v":-0.12,"j":5,"c":1},{"k":6,"v":-0.12,"j":-5,"c":0.95},{"k":6,"v":-0.12,"j":6,"c":1},{"k":6,"v":-0.12,"j":-6,"c":1},{"k":6,"v":-0.2,"j":0,"c":1},{"k":6,"v":-0.16,"j":0,"c":0.95},
{"k":6,"v":0.1,"j":0,"c":0.55},{"k":6,"v":0.1,"j":1,"c":0.55},{"k":6,"v":0.1,"j":-1,"c":0.55},{"k":6,"v":0.1,"j":2,"c":0.55},{"k":6,"v":0.1,"j":-2,"c":0.55},{"k":6,"v":0.1,"j":3,"c":0.55},{"k":6,"v":0.1,"j":-3,"c":0.55},
{"k":7,"v":0.0,"j":0,"c":1},{"k":7,"v":0.0,"j":1,"c":0.95},{"k":7,"v":0.0,"j":-1,"c":1},{"k":7,"v":0.0,"j":2,"c":0.9},{"k":7,"v":0.0,"j":-2,"c":1},{"k":7,"v":0.0,"j":3,"c":0.95},{"k":7,"v":0.0,"j":-3,"c":0.85},{"k":7,"v":0.0,"j":4,"c":1},{"k":7,"v":0.0,"j":-4,"c":0.95},{"k":7,"v":0.0,"j":5,"c":0.9},{"k":7,"v":0.0,"j":-5,"c":1},{"k":7,"v":0.0,"j":6,"c":0.95},{"k":7,"v":0.0,"j":-6,"c":0.9},
{"k":7,"v":-0.22,"j":0,"c":1},{"k":7,"v":-0.15,"j":0,"c":0.95},{"k":7,"v":-0.15,"j":1,"c":1},{"k":7,"v":-0.08,"j":0,"c":1},{"k":7,"v":-0.08,"j":-1,"c":0.9},{"k":7,"v":0.08,"j":0,"c":0.8},{"k":7,"v":0.08,"j":1,"c":0.7},{"k":7,"v":0.15,"j":0,"c":0.65},{"k":7,"v":0.15,"j":-1,"c":0.75},{"k":7,"v":0.22,"j":0,"c":0.6}
]},
"transform": [{"lookup": "k", "from": {"data": {"values": [
{"k":1,"feature":"Distance from Monitoring site (m)"},{"k":2,"feature":"Total Charge (kg)"},{"k":3,"feature":"Powder Factor"},{"k":4,"feature":"Number of Holes"},{"k":5,"feature":"Cooperating Charge (kg)"},{"k":6,"feature":"Hole Depth"},{"k":7,"feature":"Stemming"}]}, "key": "k", "fields": ["feature"]}}],
"mark": {"type": "circle", "size": 50, "opacity": 1},
"encoding": {
"x": {"field": "v", "type": "quantitative", "scale": {"domain": [-8.7, 8.75], "nice": false, "zero": false},
 "axis": {"values": [-8.6,-8.4,-8.2,-8,-7.8,-7.6,-7.4,-7.2,-7,-6.8,-6.6,-6.4,-6.2,-6,-5.8,-5.6,-5.4,-5.2,-5,-4.8,-4.6,-4.4,-4.2,-4,-3.8,-3.6,-3.4,-3.2,-3,-2.8,-2.6,-2.4,-2.2,-2,-1.8,-1.6,-1.4,-1.2,-1,-0.8,-0.6,-0.4,-0.2,0,0.2,0.4,0.6,0.8,1,1.2,1.4,1.6,1.8,2,2.2,2.4,2.6,2.8,3,3.2,3.4,3.6,3.8,4,4.2,4.4,4.6,4.8,5,5.2,5.4,5.6,5.8,6,6.2,6.4,6.6,6.8,7,7.2,7.4,7.6,7.8,8,8.2,8.4,8.6],
  "tickCount": 200,
  "labelExpr": "abs(datum.value - round(datum.value)) < 0.001 ? '' + round(datum.value) : ''",
  "tickSize": {"condition": {"test": "abs(datum.value - round(datum.value)) < 0.001", "value": 8}, "value": 4},
  "grid": false, "domainColor": "#444", "tickColor": "#444", "labelFontSize": 14, "labelColor": "#222", "labelPadding": 5, "labelFlush": false, "labelOverlap": false,
  "title": "Impact on model output", "titleFontSize": 15.5, "titleFontWeight": "normal", "titleColor": "#222", "titlePadding": 6}},
"y": {"field": "feature", "type": "nominal", "sort": ["Distance from Monitoring site (m)", "Total Charge (kg)", "Powder Factor", "Number of Holes", "Cooperating Charge (kg)", "Hole Depth", "Stemming"],
 "scale": {"type": "band", "paddingInner": 0, "paddingOuter": 0},
 "axis": {"title": null, "ticks": false, "tickSize": 0, "domain": false, "grid": false, "labelFontSize": 15.5, "labelColor": "#222", "labelPadding": 6, "labelLimit": 400}},
"yOffset": {"field": "j", "type": "quantitative", "scale": {"domain": [-7, 7], "range": [0, 57.14]}},
"color": {"field": "c", "type": "quantitative", "scale": {"domain": [0, 0.5, 1], "range": ["#008bfb", "#80409f", "#ff0051"]},
 "legend": {"orient": "none", "legendX": 925, "legendY": -1, "direction": "vertical", "gradientLength": 390, "gradientThickness": 5, "values": [0, 1],
  "labelExpr": "datum.value >= 1 ? 'High' : 'Low'", "labelFontSize": 15.5, "labelColor": "#222", "labelOffset": 4,
  "title": "Feature value", "titleOrient": "right", "titleFontSize": 15.5, "titleFontWeight": "normal", "titleColor": "#333", "titleAnchor": "middle", "titlePadding": -30, "padding": 0,
  "encode": {"title": {"update": {"angle": {"value": 270}}}}}}
}}
]
}
